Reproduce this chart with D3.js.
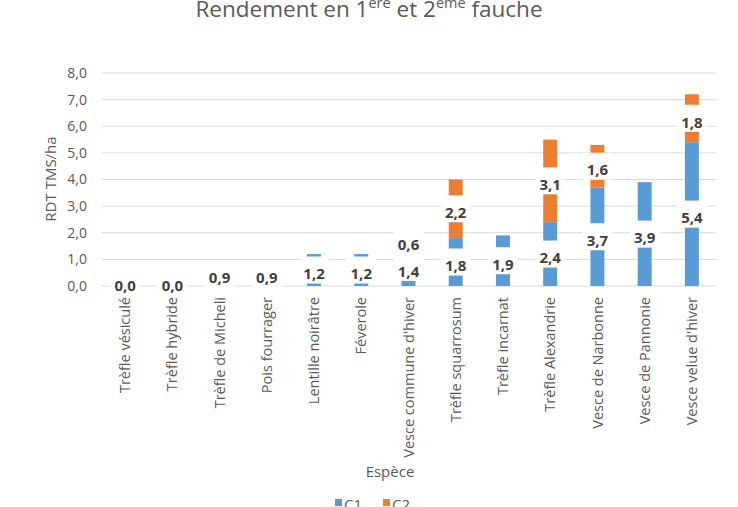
<!DOCTYPE html>
<html><head><meta charset="utf-8">
<script src="https://cdn.jsdelivr.net/npm/d3@7"></script>
<style>body{margin:0;background:#fff;overflow:hidden}</style>
</head><body><svg id="c" width="738" height="507"></svg>
<script>
const categories = ["Trèfle vésiculé","Trèfle hybride","Trèfle de Micheli","Pois fourrager","Lentille noirâtre","Féverole","Vesce commune d'hiver","Trèfle squarrosum","Trèfle incarnat","Trèfle Alexandrie","Vesce de Narbonne","Vesce de Pannonie","Vesce velue d'hiver"];
const c1 = [0.0,0.0,0.9,0.9,1.2,1.2,1.4,1.8,1.9,2.4,3.7,3.9,5.4];
const c2 = [0,0,0,0,0,0,0.6,2.2,0,3.1,1.6,0,1.8];
const yTicks = [0,1,2,3,4,5,6,7,8];
const seriesNames = ["C1","C2"];
const seriesColors = ["#5b9bd5","#ed7d31"];

const FONT = "'Open Sans', sans-serif";
const svg = d3.select("#c").style("font-family", FONT);
const rows = categories.map((c,i)=>({cat:c, C1:c1[i], C2:c2[i]}));

const x = d3.scaleBand().domain(categories).range([101.5,715.5]).paddingInner(0.704).paddingOuter(0.352);
const y = d3.scaleLinear().domain([0,8]).range([286,73]);
const fmt = v => d3.format(".1f")(v).replace(".", ",");

// title
const t = svg.append("text").attr("x",369).attr("y",17).attr("text-anchor","middle")
  .attr("font-size",22.5).attr("fill","#595959");
t.append("tspan").text("Rendement en 1");
t.append("tspan").attr("dy",-9).attr("font-size",14.5).text("ère");
t.append("tspan").attr("dy",9).text(" et 2");
t.append("tspan").attr("dy",-9).attr("font-size",14.5).text("ème");
t.append("tspan").attr("dy",9).text(" fauche");

// gridlines
svg.append("g").selectAll("line").data(yTicks).join("line")
  .attr("x1",101.5).attr("x2",715.5)
  .attr("y1",d=>y(d)).attr("y2",d=>y(d))
  .attr("stroke","#d9d9d9").attr("stroke-width",1);

// y axis labels
const yAxis = d3.axisLeft(y).tickValues(yTicks).tickFormat(fmt).tickSize(0).tickPadding(0);
const ya = svg.append("g").attr("transform","translate(87,0)").call(yAxis);
ya.select(".domain").remove();
ya.selectAll("text").attr("font-size",14).attr("fill","#595959").attr("font-family",FONT);

// y title
svg.append("text").attr("transform","translate(56,179) rotate(-90)").attr("text-anchor","middle")
  .attr("font-size",15).attr("fill","#595959").text("RDT TMS/ha");

// bars
const stack = d3.stack().keys(seriesNames)(rows);
const g = svg.append("g");
stack.forEach((s,si)=>{
  g.append("g").attr("fill",seriesColors[si]).selectAll("rect").data(s).join("rect")
    .attr("x",d=>x(d.data.cat)).attr("width",x.bandwidth())
    .attr("y",d=>y(d[1])).attr("height",d=>y(d[0])-y(d[1]));
});

// data labels
const lg = svg.append("g");
stack.forEach((s,si)=>{
  s.forEach(d=>{
    const v = d.data[seriesNames[si]];
    if (si>0 && v<=0) return;
    const cx = x(d.data.cat)+x.bandwidth()/2;
    const cy = y((d[0]+d[1])/2);
    const box = lg.append("rect").attr("fill","#fff");
    const tx = lg.append("text").attr("x",cx).attr("y",cy+(v>0?4:0)).attr("dy","0.35em")
      .attr("text-anchor","middle").attr("font-size",15).attr("font-weight","bold")
      .attr("fill","#404040").text(fmt(v));
    const w = tx.node().getComputedTextLength()+8;
    box.attr("x",cx-w/2).attr("width",w).attr("y",cy-13.5).attr("height",27);
  });
});

// x category labels
const xa = svg.append("g");
categories.forEach(c=>{
  xa.append("text").attr("transform",`translate(${x(c)+x.bandwidth()/2},297) rotate(-90)`)
    .attr("text-anchor","end").attr("dy","0.35em").attr("font-size",14.5).attr("fill","#595959").text(c);
});

// x title
svg.append("text").attr("x",390).attr("y",477).attr("text-anchor","middle")
  .attr("font-size",15).attr("fill","#595959").text("Espèce");

// legend
const legX = [335,383];
seriesNames.forEach((n,i)=>{
  svg.append("rect").attr("x",legX[i]).attr("y",499).attr("width",7).attr("height",7).attr("fill",seriesColors[i]);
  svg.append("text").attr("x",legX[i]+9).attr("y",510).attr("font-size",15).attr("fill","#595959").text(n);
});
</script></body></html>
